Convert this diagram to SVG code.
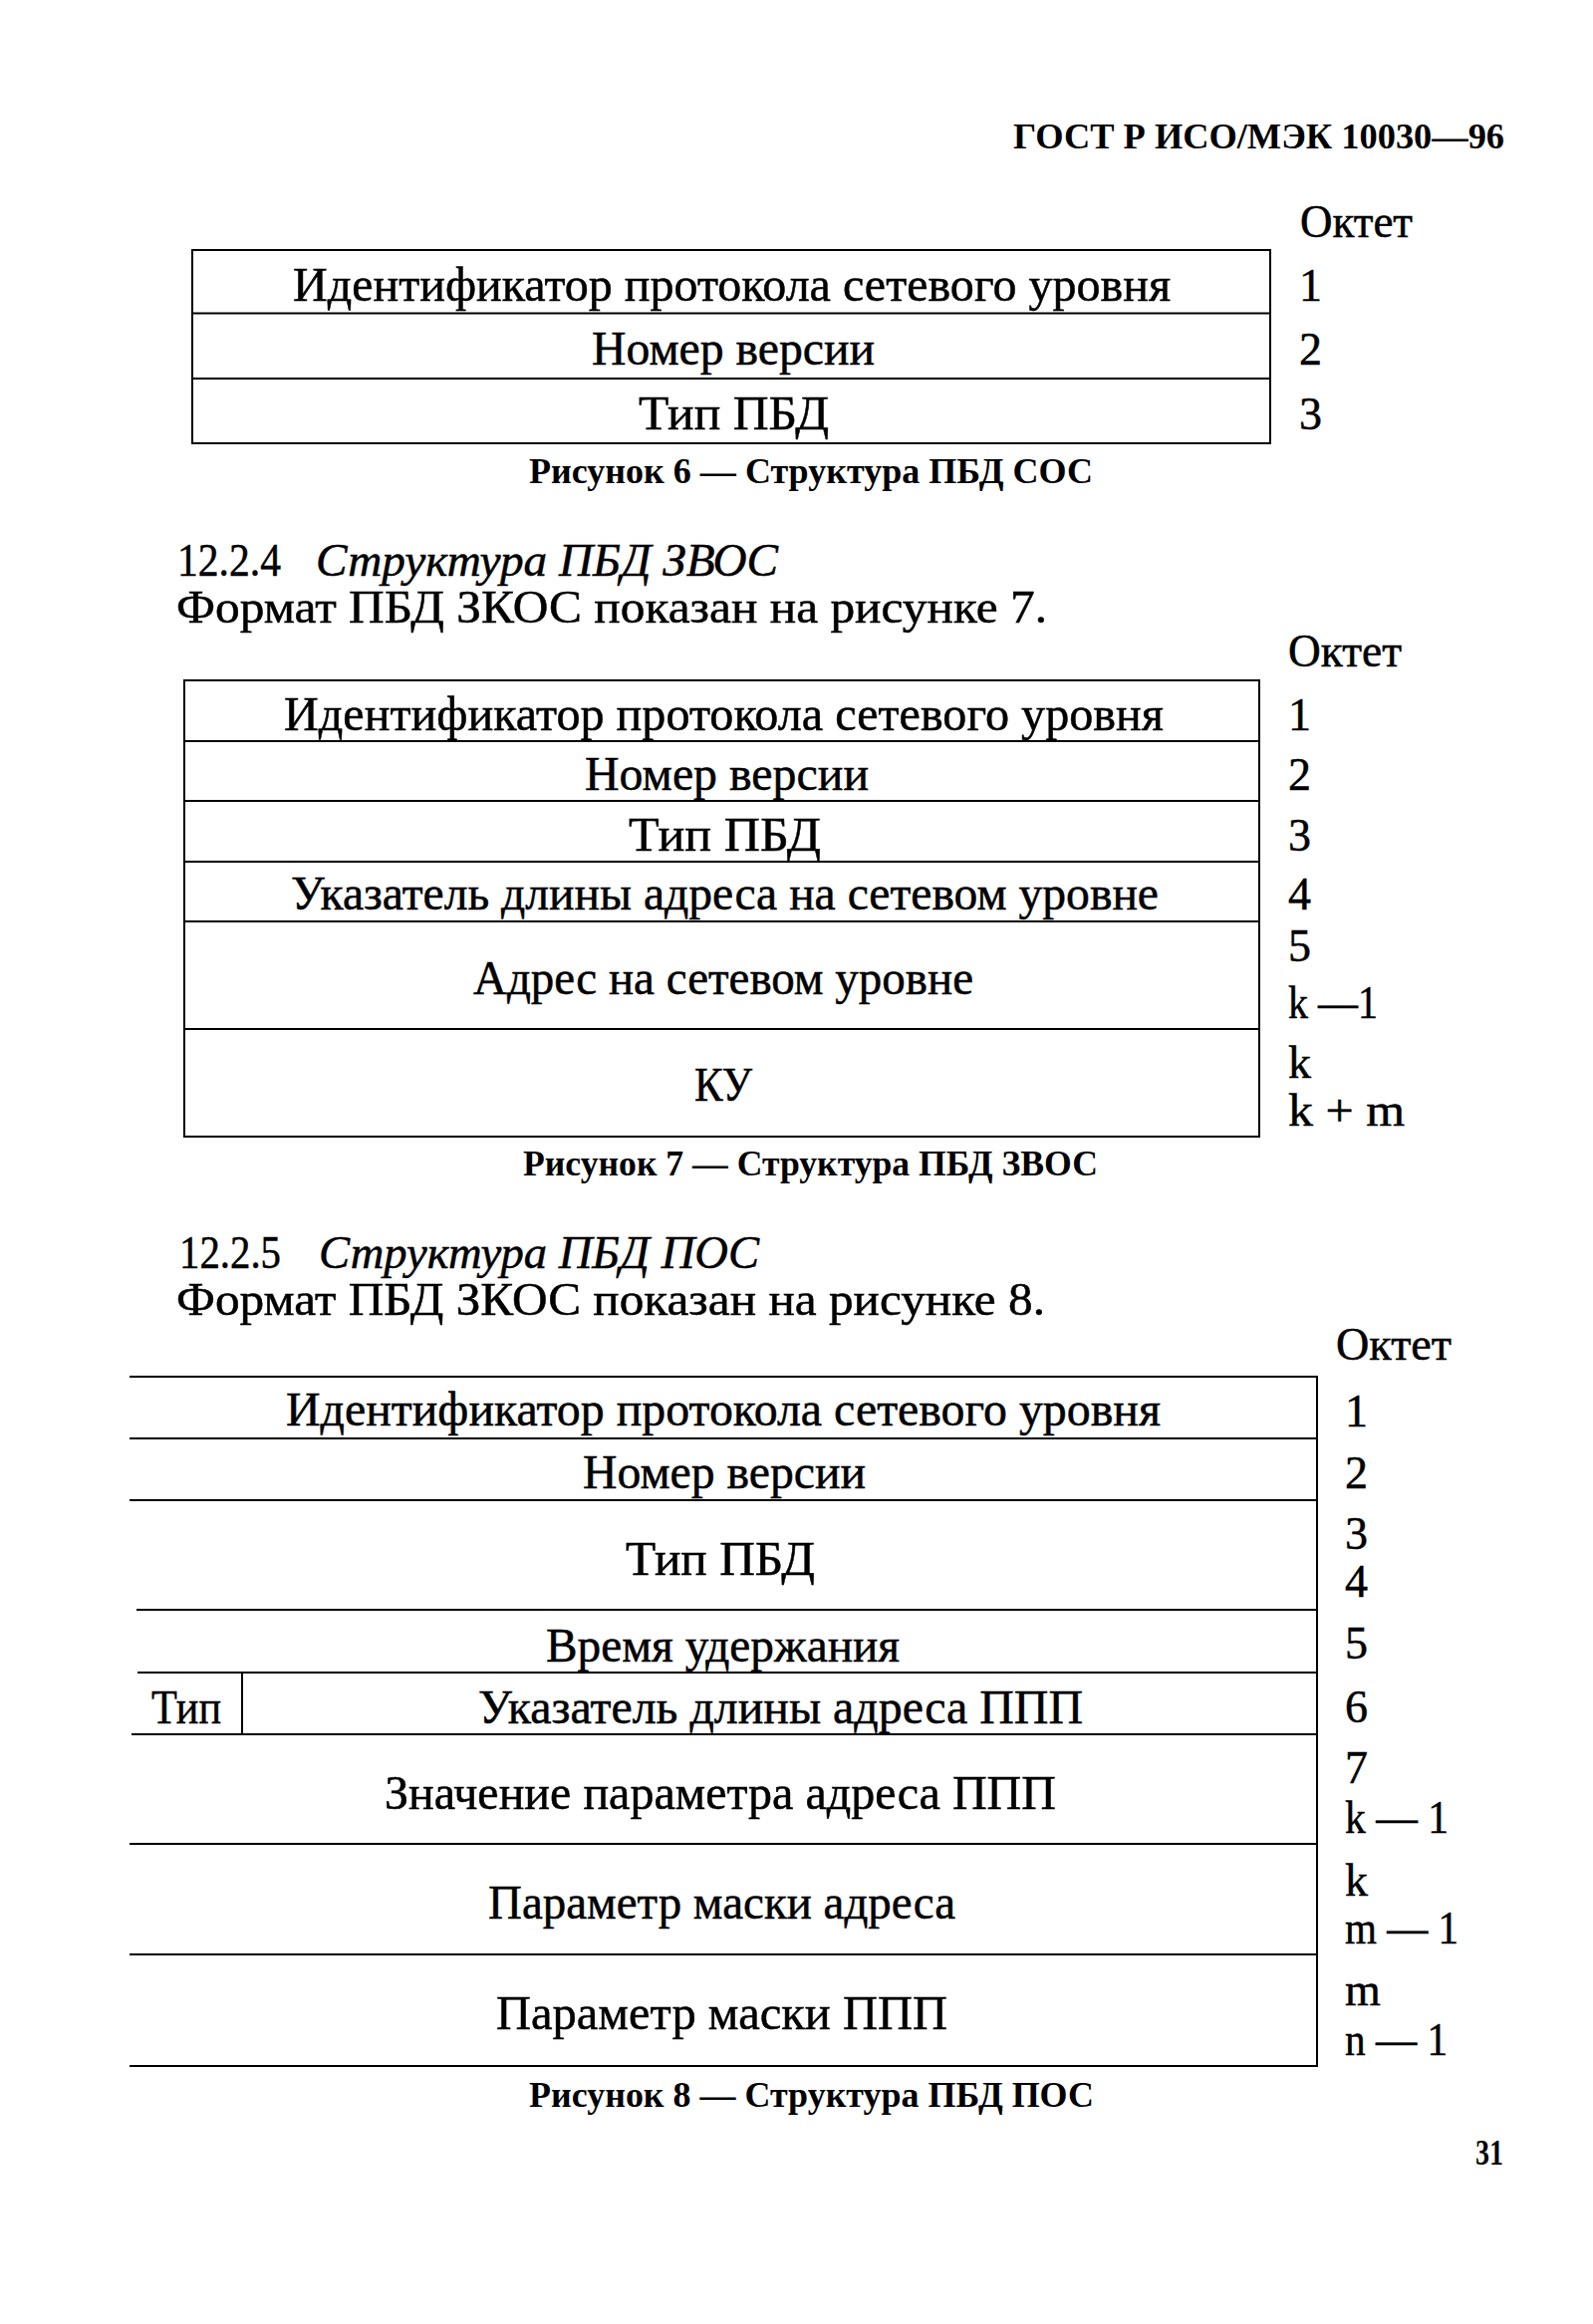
<svg xmlns="http://www.w3.org/2000/svg" width="1599" height="2333" viewBox="0 0 1599 2333">
<style>
  text { font-family: "Liberation Serif", "Times New Roman", serif; fill: #000; stroke: #000; stroke-width: 0.5px; }
  .t { font-size: 48px; }
  .n { font-size: 46px; }
  .oct { font-size: 46px; }
  .body { font-size: 47px; }
  .it { font-size: 46px; font-style: italic; }
  .cap { font-size: 35px; font-weight: bold; stroke-width: 0; }
  .hdr { font-size: 36px; font-weight: bold; stroke-width: 0; }
  .ln { stroke: #000; stroke-width: 2; fill: none; }
</style>
<rect x="0" y="0" width="1599" height="2333" fill="#fff"/>

<text class="hdr" x="1017" y="149" textLength="493" lengthAdjust="spacingAndGlyphs">ГОСТ Р ИСО/МЭК 10030—96</text>

<!-- Figure 6 -->
<g id="fig6">
  <text class="oct" x="1305" y="238" textLength="113" lengthAdjust="spacingAndGlyphs">Октет</text>
  <g id="f6-row1"><text class="t" x="294" y="302" textLength="881" lengthAdjust="spacingAndGlyphs">Идентификатор протокола сетевого уровня</text><text class="n" x="1304" y="302">1</text></g>
  <g id="f6-row2"><text class="t" x="594" y="366" textLength="284" lengthAdjust="spacingAndGlyphs">Номер версии</text><text class="n" x="1304" y="366">2</text></g>
  <g id="f6-row3"><text class="t" x="641" y="431" textLength="191" lengthAdjust="spacingAndGlyphs">Тип ПБД</text><text class="n" x="1304" y="431">3</text></g>
  <text class="cap" x="531" y="485" textLength="566" lengthAdjust="spacingAndGlyphs">Рисунок 6 — Структура ПБД СОС</text>
</g>

<!-- Section 12.2.4 -->
<text class="body" x="178" y="578" textLength="104" lengthAdjust="spacingAndGlyphs">12.2.4</text>
<text class="it" x="317" y="578" textLength="464" lengthAdjust="spacingAndGlyphs">Структура ПБД ЗВОС</text>
<text class="body" x="177" y="625" textLength="874" lengthAdjust="spacingAndGlyphs">Формат ПБД ЗКОС показан на рисунке 7.</text>

<!-- Figure 7 -->
<g id="fig7">
  <text class="oct" x="1293" y="669" textLength="114" lengthAdjust="spacingAndGlyphs">Октет</text>
  <g id="f7-row1"><text class="t" x="285" y="733" textLength="883" lengthAdjust="spacingAndGlyphs">Идентификатор протокола сетевого уровня</text><text class="n" x="1293" y="733">1</text></g>
  <g id="f7-row2"><text class="t" x="587" y="793" textLength="285" lengthAdjust="spacingAndGlyphs">Номер версии</text><text class="n" x="1293" y="793">2</text></g>
  <g id="f7-row3"><text class="t" x="631" y="854" textLength="193" lengthAdjust="spacingAndGlyphs">Тип ПБД</text><text class="n" x="1293" y="854">3</text></g>
  <g id="f7-row4"><text class="t" x="292" y="913" textLength="871" lengthAdjust="spacingAndGlyphs">Указатель длины адреса на сетевом уровне</text><text class="n" x="1293" y="913">4</text></g>
  <g id="f7-row5"><text class="t" x="475" y="998" textLength="502" lengthAdjust="spacingAndGlyphs">Адрес на сетевом уровне</text><text class="n" x="1293" y="965">5</text><text class="n" x="1293" y="1022" textLength="90" lengthAdjust="spacingAndGlyphs">k —1</text></g>
  <g id="f7-row6"><text class="t" x="697" y="1105" textLength="58" lengthAdjust="spacingAndGlyphs">КУ</text><text class="n" x="1293" y="1082">k</text><text class="n" x="1293" y="1130" textLength="117" lengthAdjust="spacingAndGlyphs">k + m</text></g>
  <text class="cap" x="525" y="1180" textLength="577" lengthAdjust="spacingAndGlyphs">Рисунок 7 — Структура ПБД ЗВОС</text>
</g>

<!-- Section 12.2.5 -->
<text class="body" x="180" y="1273" textLength="102" lengthAdjust="spacingAndGlyphs">12.2.5</text>
<text class="it" x="320" y="1273" textLength="442" lengthAdjust="spacingAndGlyphs">Структура ПБД ПОС</text>
<text class="body" x="177" y="1320" textLength="872" lengthAdjust="spacingAndGlyphs">Формат ПБД ЗКОС показан на рисунке 8.</text>

<!-- Figure 8 -->
<g id="fig8">
  <text class="oct" x="1341" y="1365" textLength="116" lengthAdjust="spacingAndGlyphs">Октет</text>
  <g id="f8-row1"><text class="t" x="287" y="1431" textLength="878" lengthAdjust="spacingAndGlyphs">Идентификатор протокола сетевого уровня</text><text class="n" x="1350" y="1432">1</text></g>
  <g id="f8-row2"><text class="t" x="585" y="1494" textLength="284" lengthAdjust="spacingAndGlyphs">Номер версии</text><text class="n" x="1350" y="1494">2</text></g>
  <g id="f8-row3"><text class="t" x="628" y="1581" textLength="190" lengthAdjust="spacingAndGlyphs">Тип ПБД</text><text class="n" x="1350" y="1555">3</text><text class="n" x="1350" y="1603">4</text></g>
  <g id="f8-row4"><text class="t" x="548" y="1668" textLength="355" lengthAdjust="spacingAndGlyphs">Время удержания</text><text class="n" x="1350" y="1665">5</text></g>
  <g id="f8-row5-type"><text class="t" x="152" y="1730" textLength="70" lengthAdjust="spacingAndGlyphs">Тип</text></g>
  <g id="f8-row5"><text class="t" x="480" y="1730" textLength="607" lengthAdjust="spacingAndGlyphs">Указатель длины адреса ППП</text><text class="n" x="1350" y="1729">6</text></g>
  <g id="f8-row6"><text class="t" x="386" y="1816" textLength="674" lengthAdjust="spacingAndGlyphs">Значение параметра адреса ППП</text><text class="n" x="1350" y="1790">7</text><text class="n" x="1350" y="1840" textLength="104" lengthAdjust="spacingAndGlyphs">k — 1</text></g>
  <g id="f8-row7"><text class="t" x="490" y="1926" textLength="469" lengthAdjust="spacingAndGlyphs">Параметр маски адреса</text><text class="n" x="1350" y="1903">k</text><text class="n" x="1350" y="1951" textLength="114" lengthAdjust="spacingAndGlyphs">m — 1</text></g>
  <g id="f8-row8"><text class="t" x="498" y="2037" textLength="453" lengthAdjust="spacingAndGlyphs">Параметр маски ППП</text><text class="n" x="1350" y="2013">m</text><text class="n" x="1350" y="2063" textLength="103" lengthAdjust="spacingAndGlyphs">n — 1</text></g>
  <text class="cap" x="531" y="2115" textLength="567" lengthAdjust="spacingAndGlyphs">Рисунок 8 — Структура ПБД ПОС</text>
</g>

<text class="hdr" x="1481" y="2173" font-size="34" textLength="28" lengthAdjust="spacingAndGlyphs">31</text>

<!-- Table rules -->
<g id="connectors">
  <!-- fig 6 -->
  <path class="ln" d="M193 251 H1275 V445 H193 Z"/>
  <path class="ln" d="M193 314.5 H1275 M193 380 H1275"/>
  <!-- fig 7 -->
  <path class="ln" d="M185 683 H1264 V1141 H185 Z"/>
  <path class="ln" d="M185 744 H1264 M185 804 H1264 M185 865 H1264 M185 925 H1264 M185 1033 H1264"/>
  <!-- fig 8 -->
  <path class="ln" d="M130 1382 H1322 V2074 H130"/>
  <path class="ln" d="M130 1444 H1322 M130 1506 H1322 M137 1616 H1322 M138 1679 H1322 M132 1741 H1322 M130 1851 H1322 M130 1962 H1322"/>
  <path class="ln" d="M243 1679 V1741"/>
</g>
</svg>
